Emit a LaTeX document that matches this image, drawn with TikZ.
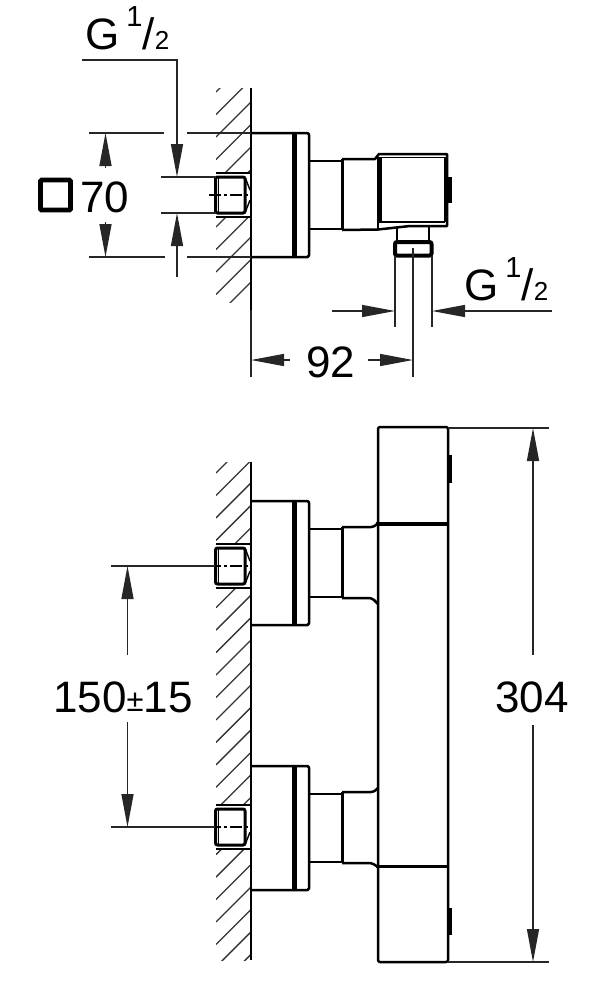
\documentclass[tikz,border=0pt]{standalone}
\usepackage{fontspec}
\setmainfont{Liberation Sans}
\usetikzlibrary{arrows.meta}
\tikzstyle{dimtext} = [anchor=base west, inner sep=0pt, font=\fontsize{44}{44}\selectfont]
\tikzstyle{dimline} = [line width=1.4pt, draw=black!85]
\tikzstyle{dimarrow} = [dimline, -{Triangle[length=33pt,width=12pt]}]
\tikzstyle{hatchline} = [line width=1.3pt, draw=black!80]
\tikzstyle{outline} = [line width=2.5pt, line join=round]
\tikzstyle{heavy} = [line width=4pt]
\newcommand{\threadlabel}{G\hspace{7pt}\raisebox{23pt}{\fontsize{29}{29}\selectfont 1}/{\fontsize{26}{26}\selectfont 2}}
\begin{document}
\begin{tikzpicture}[x=1pt,y=-1pt]
	\useasboundingbox (0,0) rectangle (600,997);
	% wall hatching, top view
	\begin{scope}
		\clip (216,88) rectangle (251,302);
		\foreach \hy in {0,...,11}
			\draw [hatchline] (216,92+22.5*\hy) -- ++(36,-36);
	\end{scope}
	% wall hatching, front view
	\begin{scope}
		\clip (216,462) rectangle (251,960);
		\foreach \hy in {0,...,23}
			\draw [hatchline] (216,473+22.45*\hy) -- ++(36,-36);
	\end{scope}
	% wall sockets
	\foreach \sy in {195,566,827} {
		\fill [white] (214,\sy-22) rectangle (250,\sy+22);
		\draw [outline] (216,\sy-22) -- (251,\sy-22);
		\draw [outline] (216,\sy+22) -- (251,\sy+22);
		\draw [rounded corners=2pt, line width=3pt] (215.5,\sy-18) rectangle (245,\sy+18);
		\draw [line width=1.2pt] (218.5,\sy-17) -- (218.5,\sy+17);
		\draw [line width=1.4pt] (245,\sy+18) -- (250,\sy+5);
		\draw [line width=1.2pt, dash pattern=on 12pt off 3pt on 3pt off 3pt] (209,\sy) -- (249,\sy);
	}
	\draw [line width=1.4pt] (245,177) -- (250,190);
	\draw [line width=1.4pt] (245,548) -- (250,561);
	% wall
	\draw [outline] (251,88) -- (251,310);
	\draw [outline] (251,462) -- (251,960);
	\draw [dimline] (251,310) -- (251,377);
	% wall plates and necks
	\foreach \py in {133,501,766} {
		\draw [outline, rounded corners=1.5pt] (251,\py) -- (309,\py) -- (309,\py+124) -- (251,\py+124);
		\draw [line width=5pt] (294,\py) -- (294,\py+124);
		\draw [outline] (309,\py+28) -- (342,\py+28);
		\draw [outline] (309,\py+96) -- (342,\py+96);
		\draw [outline] (342.5,\py+26) -- (342.5,\py+97);
	}
	% top view head
	\draw [outline] (342,159) -- (375,159) -- (379,154) -- (447,154) -- (447,226) -- (410,226) -- (378,229.5) -- (342,230);
	\draw [line width=2.8pt] (380.5,157) -- (380.5,222) -- (445,222);
	\draw [line width=1.6pt] (380,157.5) -- (445,157.5) -- (445,222);
	\draw [line width=1.6pt] (378,157) -- (378,229);
	\draw [heavy] (449.5,177) -- (449.5,203);
	\draw [outline] (397,227) -- (397,241);
	\draw [outline] (429,227) -- (429,241);
	\draw [heavy, rounded corners=2pt] (395,242) rectangle (431.5,255.5);
	% front view body
	\draw [outline, rounded corners=2pt] (378,962) -- (378,427) -- (448,427) -- (448,962) -- cycle;
	\draw [line width=4.4pt] (376,524) -- (448,524);
	\draw [line width=3pt] (376,866) -- (448,866);
	\draw [heavy] (449.5,455) -- (449.5,483);
	\draw [heavy] (449.5,908) -- (449.5,935);
	\draw [outline, rounded corners=3pt] (342,527) -- (374,527) -- (378,523);
	\draw [outline, rounded corners=3pt] (342,598) -- (372,598) -- (378,604);
	\draw [outline, rounded corners=3pt] (342,792) -- (374,792) -- (378,788);
	\draw [outline, rounded corners=2pt] (342,863) -- (372,863) -- (378,867);
	% G 1/2 left
	\node (threadleft) [dimtext] at (85,49) {\threadlabel};
	\coordinate (leadstart) at (82,60);
	\coordinate (leadbend) at (177,60);
	\coordinate (leadtip) at (177,177);
	\coordinate (leadend) at (177,277);
	\coordinate (leadlow) at (177,213);
	\draw [dimarrow] (leadstart) -- (leadbend) -- (leadtip);
	\draw [dimarrow] (leadend) -- (leadlow);
	\draw [dimline] (161,177) -- (216,177);
	\draw [dimline] (161,213) -- (216,213);
	% square 70
	\node (squaresign) [draw, line width=4.6pt, rounded corners=1pt, minimum size=30pt, inner sep=0pt] at (55.5,195) {};
	\node (squaresize) [dimtext] at (80,212) {70};
	\coordinate (sqtop) at (105.5,133);
	\coordinate (sqlow) at (105.5,257);
	\draw [dimarrow] (105.5,168) -- (sqtop);
	\draw [dimarrow] (105.5,222) -- (sqlow);
	\draw [dimline] (89,133) -- (164,133);
	\draw [dimline] (187,133) -- (251,133);
	\draw [dimline] (89,257) -- (165,257);
	\draw [dimline] (187,257) -- (251,257);
	% G 1/2 right
	\node (threadright) [dimtext] at (464,300) {\threadlabel};
	\draw [dimline] (395,256) -- (395,327);
	\draw [dimline] (432,256) -- (432,327);
	\draw [dimline] (413,248) -- (413,377);
	\draw [dimarrow] (332,311) -- (395,311);
	\draw [dimarrow] (552,311) -- (432,311);
	% 92
	\node (depth) [dimtext] at (306,377) {92};
	\draw [dimarrow] (290,360) -- (251,360);
	\draw [dimarrow] (368,360) -- (413,360);
	% 150
	\node (spacing) [dimtext] at (53,712) {150{\fontsize{31}{31}\selectfont\raisebox{1pt}{±}}15};
	\draw [dimarrow] (127.5,655) -- (127.5,566);
	\draw [dimarrow] (127.5,722) -- (127.5,827);
	\draw [dimline] (111,566) -- (215,566);
	\draw [dimline] (111,827) -- (215,827);
	% 304
	\node (height) [dimtext] at (495,712) {304};
	\draw [dimarrow] (533,655) -- (533,428);
	\draw [dimarrow] (533,725) -- (533,962);
	\draw [dimline] (448,428) -- (549,428);
	\draw [dimline] (448,962) -- (549,962);
\end{tikzpicture}
\end{document}
